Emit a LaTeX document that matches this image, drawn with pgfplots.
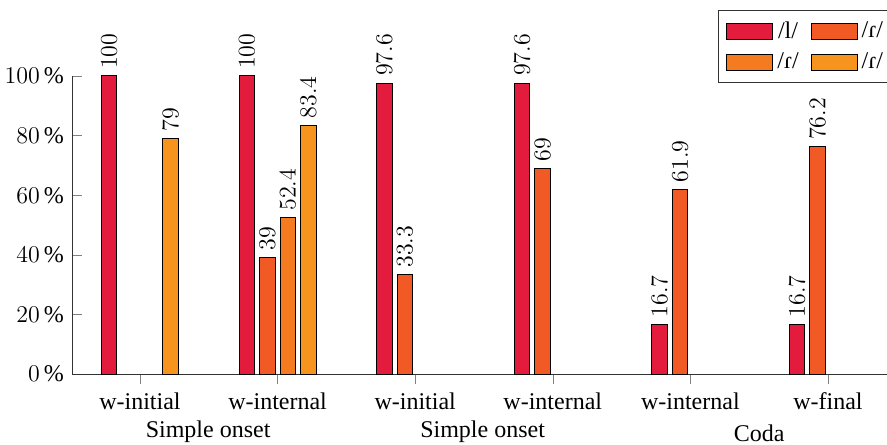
\documentclass[border=0pt]{standalone}
\usepackage{fontspec}
\setmainfont{Liberation Serif}
\usepackage{pgfplots}
\pgfplotsset{compat=1.18}
\definecolor{cA}{HTML}{E31B3C}
\definecolor{cB}{HTML}{F15A24}
\definecolor{cC}{HTML}{F47B20}
\definecolor{cD}{HTML}{F7941D}
\begin{document}
\begin{tikzpicture}
\begin{axis}[
  scale only axis,
  width=407.5pt, height=149pt,
  xmin=-0.494, xmax=5.429,
  ymin=0, ymax=100,
  axis lines=left,
  axis line style={-, black!80},
  clip=false,
  ybar,
  bar width=0.113,
  xtick={0,1,2,3,4,5},
  xticklabels={w-initial,w-internal,w-initial,w-internal,w-internal,w-final},
  x tick label style={font=\large, yshift=-1pt},
  ytick={0,20,40,60,80,100},
  yticklabels={$0\,\%$,$20\,\%$,$40\,\%$,$60\,\%$,$80\,\%$,$100\,\%$},
  y tick label style={font=\large, xshift=4.5pt},
  tick align=outside,
  major tick length=5pt,
  tick style={black!50},
  y tick style={xshift=5pt},
  nodes near coords,
  nodes near coords style={rotate=90, anchor=west, font=\large, black},
  every axis plot/.append style={draw=black, line width=0.5pt},
  legend columns=2,
  legend style={at={(0.7926,1.2215)}, anchor=north west, draw=black!80,
    font=\large, inner xsep=4pt, inner ysep=3.5pt, row sep=2pt,
    /tikz/every even column/.append style={column sep=4pt}},
  legend image code/.code={\draw[#1] (0pt,-4pt) rectangle (23pt,4pt);},
]
\addplot[fill=cA, bar shift=-0.2235] coordinates {(0,100) (1,100) (2,97.6) (3,97.6) (4,16.7) (5,16.7)};
\addplot[fill=cB, bar shift=-0.0745] coordinates {(1,39) (2,33.3) (3,69) (4,61.9) (5,76.2)};
\addplot[fill=cC, bar shift=0.0745] coordinates {(1,52.4)};
\addplot[fill=cD, bar shift=0.2235] coordinates {(0,79) (1,83.4)};
\legend{/l/,/ɾ/,/ɾ/,/ɾ/}
\node[font=\large, anchor=center] at (axis cs:0.495,0) [yshift=-29pt] {Simple onset};
\node[font=\large, anchor=center] at (axis cs:2.49,0) [yshift=-29pt] {Simple onset};
\node[font=\large, anchor=center] at (axis cs:4.5,0) [yshift=-29.5pt] {Coda};
\end{axis}
\pgfresetboundingbox
\path[use as bounding box] (-36pt,-35pt) rectangle (407.5pt,187pt);
\end{tikzpicture}
\end{document}
